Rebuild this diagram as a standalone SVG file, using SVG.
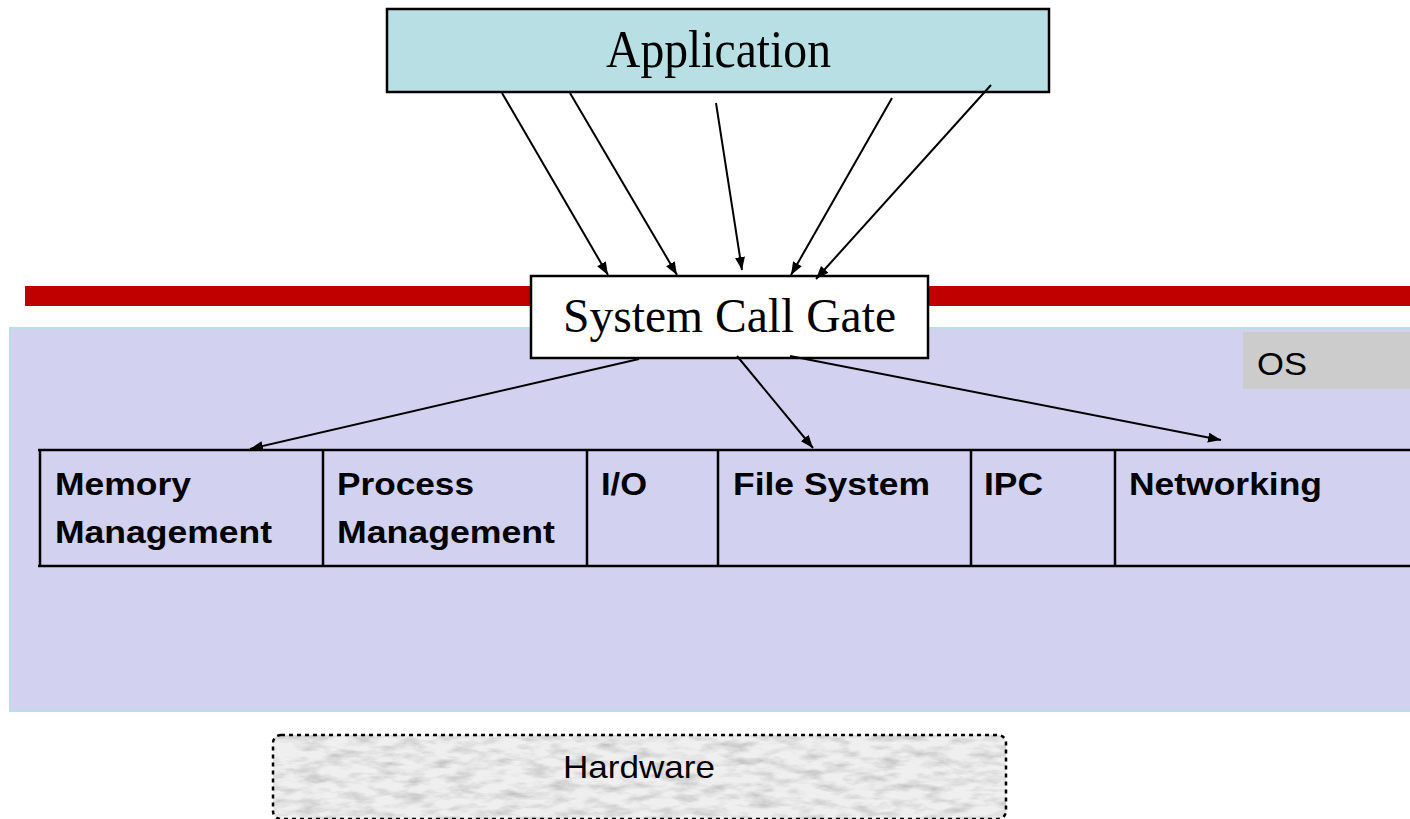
<svg xmlns="http://www.w3.org/2000/svg" width="1410" height="819" viewBox="0 0 1410 819">
  <style>
    .box { stroke: #000; stroke-width: 2.5; }
    .cell { fill: none; stroke: #000; stroke-width: 2.5; }
    .serif { font-family: "Liberation Serif", "Times New Roman", serif; fill: #000; }
    .sans { font-family: "Liberation Sans", Arial, sans-serif; fill: #000; }
    .lbl { font-family: "Liberation Sans", Arial, sans-serif; font-weight: bold; font-size: 32px; fill: #000; }
    .conn { stroke: #000; stroke-width: 2; fill: none; marker-end: url(#arrow); }
  </style>
  <defs>
    <marker id="arrow" markerUnits="userSpaceOnUse" markerWidth="15" markerHeight="11" refX="13" refY="5" orient="auto">
      <path d="M0,0 L13,5 L0,10 z" fill="#000"/>
    </marker>
    <filter id="marble" x="0" y="0" width="100%" height="100%">
      <feTurbulence type="fractalNoise" baseFrequency="0.04 0.12" numOctaves="4" seed="7" result="noise"/>
      <feColorMatrix in="noise" type="matrix" values="0 0 0 0 0.45  0 0 0 0 0.45  0 0 0 0 0.45  -1.6 0 0 0 0.95" result="veins"/>
      <feComposite in="veins" in2="SourceGraphic" operator="in" result="tex"/>
      <feMerge>
        <feMergeNode in="SourceGraphic"/>
        <feMergeNode in="tex"/>
      </feMerge>
    </filter>
  </defs>

  <rect width="1410" height="819" fill="#fff"/>

  <!-- user/kernel boundary -->
  <rect id="boundary" x="25" y="286" width="1385" height="20" fill="#c00000"/>

  <!-- OS region -->
  <g id="os">
    <rect x="10" y="328" width="1410" height="383" fill="#d2d2f0" stroke="#b8dfe3" stroke-width="2"/>
    <rect x="1243" y="332" width="167" height="57" fill="#cccccc"/>
    <text class="sans" x="1257" y="375" font-size="32" textLength="50" lengthAdjust="spacingAndGlyphs">OS</text>
  </g>

  <!-- kernel subsystems -->
  <g id="subsystems">
    <path class="cell" d="M38,450 H1410 M38,566 H1410 M40,450 V566 M323,450 V566 M587,450 V566 M718,450 V566 M971,450 V566 M1115,450 V566"/>
    <g id="memory">
      <text class="lbl" x="55" y="495" textLength="136" lengthAdjust="spacingAndGlyphs">Memory</text>
      <text class="lbl" x="55" y="543" textLength="217" lengthAdjust="spacingAndGlyphs">Management</text>
    </g>
    <g id="process">
      <text class="lbl" x="337" y="495" textLength="137" lengthAdjust="spacingAndGlyphs">Process</text>
      <text class="lbl" x="337" y="543" textLength="218" lengthAdjust="spacingAndGlyphs">Management</text>
    </g>
    <g id="io">
      <text class="lbl" x="601" y="495" textLength="46" lengthAdjust="spacingAndGlyphs">I/O</text>
    </g>
    <g id="filesystem">
      <text class="lbl" x="733" y="495" textLength="197" lengthAdjust="spacingAndGlyphs">File System</text>
    </g>
    <g id="ipc">
      <text class="lbl" x="984" y="495" textLength="59" lengthAdjust="spacingAndGlyphs">IPC</text>
    </g>
    <g id="networking">
      <text class="lbl" x="1129" y="495" textLength="193" lengthAdjust="spacingAndGlyphs">Networking</text>
    </g>
  </g>

  <!-- Application -->
  <g id="application">
    <rect class="box" x="387" y="9" width="662" height="83" fill="#b8dfe3"/>
    <text class="serif" x="606" y="67" font-size="52" textLength="225" lengthAdjust="spacingAndGlyphs">Application</text>
  </g>

  <!-- System Call Gate -->
  <g id="gate">
    <rect class="box" x="531" y="276" width="397" height="82" fill="#fff"/>
    <text class="serif" x="563" y="332" font-size="48" textLength="333" lengthAdjust="spacingAndGlyphs">System Call Gate</text>
  </g>

  <!-- Hardware -->
  <g id="hardware">
    <rect x="273" y="735" width="733" height="84" rx="8" fill="#efefef" filter="url(#marble)"/>
    <rect x="273" y="735" width="733" height="84" rx="8" fill="none" stroke="#000" stroke-width="2.5" stroke-dasharray="4 4"/>
    <text class="sans" x="563" y="778" font-size="32" textLength="152" lengthAdjust="spacingAndGlyphs">Hardware</text>
  </g>

  <!-- connectors -->
  <g id="connectors">
    <line class="conn" x1="502" y1="93" x2="608" y2="275"/>
    <line class="conn" x1="570" y1="93" x2="677" y2="275"/>
    <line class="conn" x1="716" y1="103" x2="742" y2="270"/>
    <line class="conn" x1="892" y1="98" x2="791" y2="275"/>
    <line class="conn" x1="991" y1="85" x2="816" y2="279"/>
    <line class="conn" x1="639" y1="359" x2="250" y2="449"/>
    <line class="conn" x1="737" y1="356" x2="813" y2="448"/>
    <line class="conn" x1="790" y1="356" x2="1221" y2="440"/>
  </g>
</svg>
